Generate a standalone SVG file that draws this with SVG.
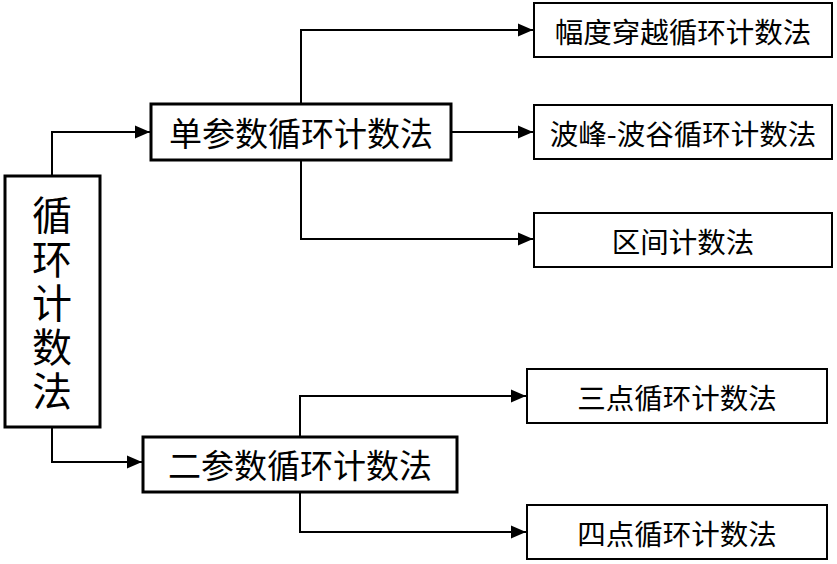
<svg xmlns="http://www.w3.org/2000/svg" width="837" height="564" viewBox="0 0 837 564">
<style>
.thick{fill:#fff;stroke:#000;stroke-width:3}
.thin{fill:#fff;stroke:#000;stroke-width:2}
.t{font-family:"Noto Sans CJK SC","Microsoft YaHei",sans-serif;fill:#000;text-anchor:middle;dominant-baseline:central}
.mid{font-size:33px}
.leaf{font-size:28.5px}
.main{font-size:40px;writing-mode:vertical-rl;letter-spacing:4px}
.c{fill:none;stroke:#000;stroke-width:2;marker-end:url(#arr)}
</style>
<defs>
<marker id="arr" markerUnits="userSpaceOnUse" markerWidth="16" markerHeight="14" refX="15" refY="7" orient="auto">
<path d="M0,0.5 L15,7 L0,13.5 z" fill="#000"/>
</marker>
</defs>
<rect width="837" height="564" fill="#fff"/>
<g id="connectors">
<path class="c" d="M52,176 V132 H150"/>
<path class="c" d="M52,427 V462 H142"/>
<path class="c" d="M301,104 V30 H533"/>
<path class="c" d="M451,132 H533"/>
<path class="c" d="M301,160 V239 H533"/>
<path class="c" d="M300,437 V396 H526"/>
<path class="c" d="M300,492 V532 H526"/>
</g>
<g id="main">
<rect class="thick" x="5" y="176" width="95" height="251"/>
<text class="t main" x="52" y="305">循环计数法</text>
</g>
<g id="single">
<rect class="thick" x="151" y="104" width="300" height="56"/>
<text class="t mid" x="301" y="132">单参数循环计数法</text>
</g>
<g id="double">
<rect class="thick" x="143" y="437" width="314" height="55"/>
<text class="t mid" x="300" y="464">二参数循环计数法</text>
</g>
<g id="amp">
<rect class="thin" x="534" y="3" width="298" height="54"/>
<text class="t leaf" x="683" y="30">幅度穿越循环计数法</text>
</g>
<g id="peak">
<rect class="thin" x="534" y="105" width="298" height="54"/>
<text class="t leaf" x="683" y="132">波峰-波谷循环计数法</text>
</g>
<g id="range">
<rect class="thin" x="534" y="213" width="298" height="54"/>
<text class="t leaf" x="683" y="240">区间计数法</text>
</g>
<g id="three">
<rect class="thin" x="527" y="369" width="300" height="54"/>
<text class="t leaf" x="677" y="396">三点循环计数法</text>
</g>
<g id="four">
<rect class="thin" x="527" y="505" width="300" height="54"/>
<text class="t leaf" x="677" y="532">四点循环计数法</text>
</g>
</svg>
